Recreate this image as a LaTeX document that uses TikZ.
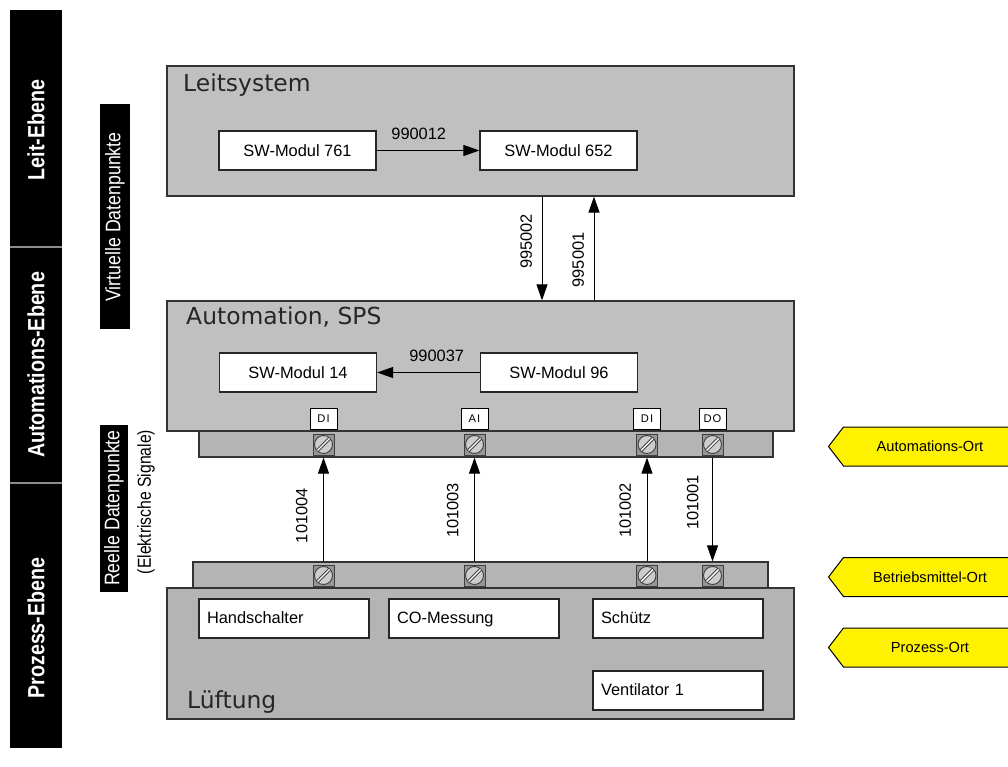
\documentclass[tikz,border=0pt]{standalone}
\usepackage{fontspec}
\setmainfont{Liberation Sans}
\newfontfamily\titlefont{DejaVu Sans}
\newfontfamily\narrowfont[FakeStretch=0.84]{Liberation Sans}
\newfontfamily\tagfont[LetterSpace=10]{Liberation Sans}
\usetikzlibrary{arrows.meta,positioning,shapes.symbols}
\newcommand\px{0.03cm}
\definecolor{boxgray}{RGB}{192,192,192}
\definecolor{procgray}{RGB}{180,180,180}
\definecolor{screwgray}{RGB}{150,150,150}
\definecolor{headgray}{RGB}{205,205,205}
\tikzset{
  bigbox/.style={draw=black!80,fill=boxgray,line width=1.2*\px,minimum width=627*\px,minimum height=130*\px},
  strip/.style={draw=black!80,fill=procgray,line width=1.2*\px,minimum height=26*\px},
  modul/.style={draw=black!85,fill=white,line width=1.2*\px,minimum width=157*\px,minimum height=39*\px},
  procbox/.style={draw=black!85,fill=white,line width=1.2*\px,text width=154*\px,inner xsep=8*\px,
    minimum height=39*\px,align=left,text height=.95em,text depth=.05em},
  title/.style={anchor=base west,inner sep=0pt,font=\titlefont\fontsize{20pt}{24pt}\selectfont,text=black!85},
  tag/.style={draw,fill=white,line width=1*\px,minimum width=27*\px,minimum height=21*\px,inner sep=0pt,
    font=\tagfont\fontsize{9.5pt}{10pt}\selectfont},
  screw/.style={draw=black!75,fill=screwgray,line width=1*\px,minimum size=21*\px,inner sep=0pt,
    path picture={
      \draw[fill=headgray,line width=.9*\px] (path picture bounding box.center) circle (9*\px);
      \draw[line width=.9*\px,double=white,double distance=1.4*\px]
        ([shift={(-6,6)}]path picture bounding box.center) -- ([shift={(6,-6)}]path picture bounding box.center);
    }},
  sig/.style={-{Triangle[length=16*\px,width=11*\px]},line width=1*\px},
  hlbl/.style={anchor=south,inner sep=0pt,outer sep=11*\px},
  vlbl/.style={rotate=90,anchor=south,inner sep=0pt,outer sep=#1*\px},
  vlbl/.default=10,
  levl/.style={rotate=90,text=white,font=\narrowfont\bfseries\fontsize{20pt}{22pt}\selectfont},
  dpbox/.style={rotate=90,fill=black,text=white,inner sep=0pt,font=\narrowfont\fontsize{18pt}{20pt}\selectfont},
  ort/.style={signal,signal to=west,signal pointer angle=105,draw,fill=yellow,line width=1*\px,
    minimum width=188*\px,minimum height=39*\px,inner sep=0pt,font=\fontsize{12.5pt}{14pt}\selectfont}
}
\begin{document}
\begin{tikzpicture}[x=\px,y=-\px,font=\fontsize{14pt}{16pt}\selectfont]
  \useasboundingbox (0,0) rectangle (1008,767);

  % Ebenen
  \fill (10,10) rectangle (62,748);
  \draw[black!45,line width=1.5*\px] (10,247) -- (62,247) (10,483) -- (62,483);
  \node[levl] (leitlvl) at (36,130) {Leit-Ebene};
  \node[levl] (autolvl) at (36,365) {Automations-Ebene};
  \node[levl] (proclvl) at (36,628) {Prozess-Ebene};

  \node[dpbox,minimum width=225*\px,minimum height=30*\px] (virt) at (115,217) {Virtuelle Datenpunkte};
  \node[dpbox,minimum width=167*\px,minimum height=28*\px] (reell) at (114,508) {Reelle Datenpunkte};
  \node[rotate=90,font=\narrowfont\fontsize{16pt}{18pt}\selectfont] (elek) at (146,502) {(Elektrische Signale)};

  % Systeme
  \node[strip,minimum width=574*\px] (tstrip) at (486,444) {};
  \node[strip,minimum width=575*\px] (bstrip) at (480.5,575) {};
  \node[bigbox] (leit) at (480.5,131) {};
  \node[bigbox] (auto) at (480.5,366) {};
  \node[bigbox,fill=procgray,minimum height=131*\px] (ltg) at (480.5,653.5) {};
  \node[title] (leittitle) at (183,92) {Leitsystem};
  \node[title] (autotitle) at (186,325) {Automation, SPS};
  \node[title] (ltgtitle) at (187,708) {Lüftung};

  \node[modul] (m761) at (297.5,150.5) {SW-Modul 761};
  \node[modul] (m652) at (558.5,150.5) {SW-Modul 652};
  \node[modul] (m14) at (298,372.5) {SW-Modul 14};
  \node[modul] (m96) at (559,372.5) {SW-Modul 96};

  \node[procbox] (hand) at (284,618.5) {Handschalter};
  \node[procbox] (co) at (474,618.5) {CO-Messung};
  \node[procbox] (schuetz) at (678,618.5) {Schütz};
  \node[procbox] (vent) at (678,690.5) {Ventilator 1};

  % Klemmen
  \foreach \x/\t [count=\i] in {323.5/DI,474.5/AI,647/DI,712.5/DO}{
    \node[tag] (t\i) at (\x,418.5) {\t};
    \node[screw] (s\i) at (\x,444.5) {};
    \node[screw] (b\i) at (\x,575.5) {};
  }

  % Datenpunkte
  \coordinate (d1) at (542,0);
  \coordinate (d2) at (594,0);
  \draw[sig] (m761) -- node[hlbl,pos=.41] {990012} (m652);
  \draw[sig] (m96) -- node[hlbl,pos=.42] {990037} (m14);
  \draw[sig] (leit.south -| d1) -- node[vlbl,pos=.43] {995002} (auto.north -| d1);
  \draw[sig] (auto.north -| d2) -- node[vlbl,pos=.39] {995001} (leit.south -| d2);
  \draw[sig] (b1 |- bstrip.north) -- node[vlbl=16,pos=.44] {101004} (s1 |- tstrip.south);
  \draw[sig] (b2 |- bstrip.north) -- node[vlbl=16,pos=.49] {101003} (s2 |- tstrip.south);
  \draw[sig] (b3 |- bstrip.north) -- node[vlbl=16,pos=.49] {101002} (s3 |- tstrip.south);
  \draw[sig] (s4 |- tstrip.south) -- node[vlbl=14,pos=.43] {101001} (b4 |- bstrip.north);

  % Orte
  \node[ort] (aort) at (930,446.5) {Automations-Ort};
  \node[ort] (bort) at (930,577) {Betriebsmittel-Ort};
  \node[ort] (port) at (930,647.5) {Prozess-Ort};
\end{tikzpicture}
\end{document}
